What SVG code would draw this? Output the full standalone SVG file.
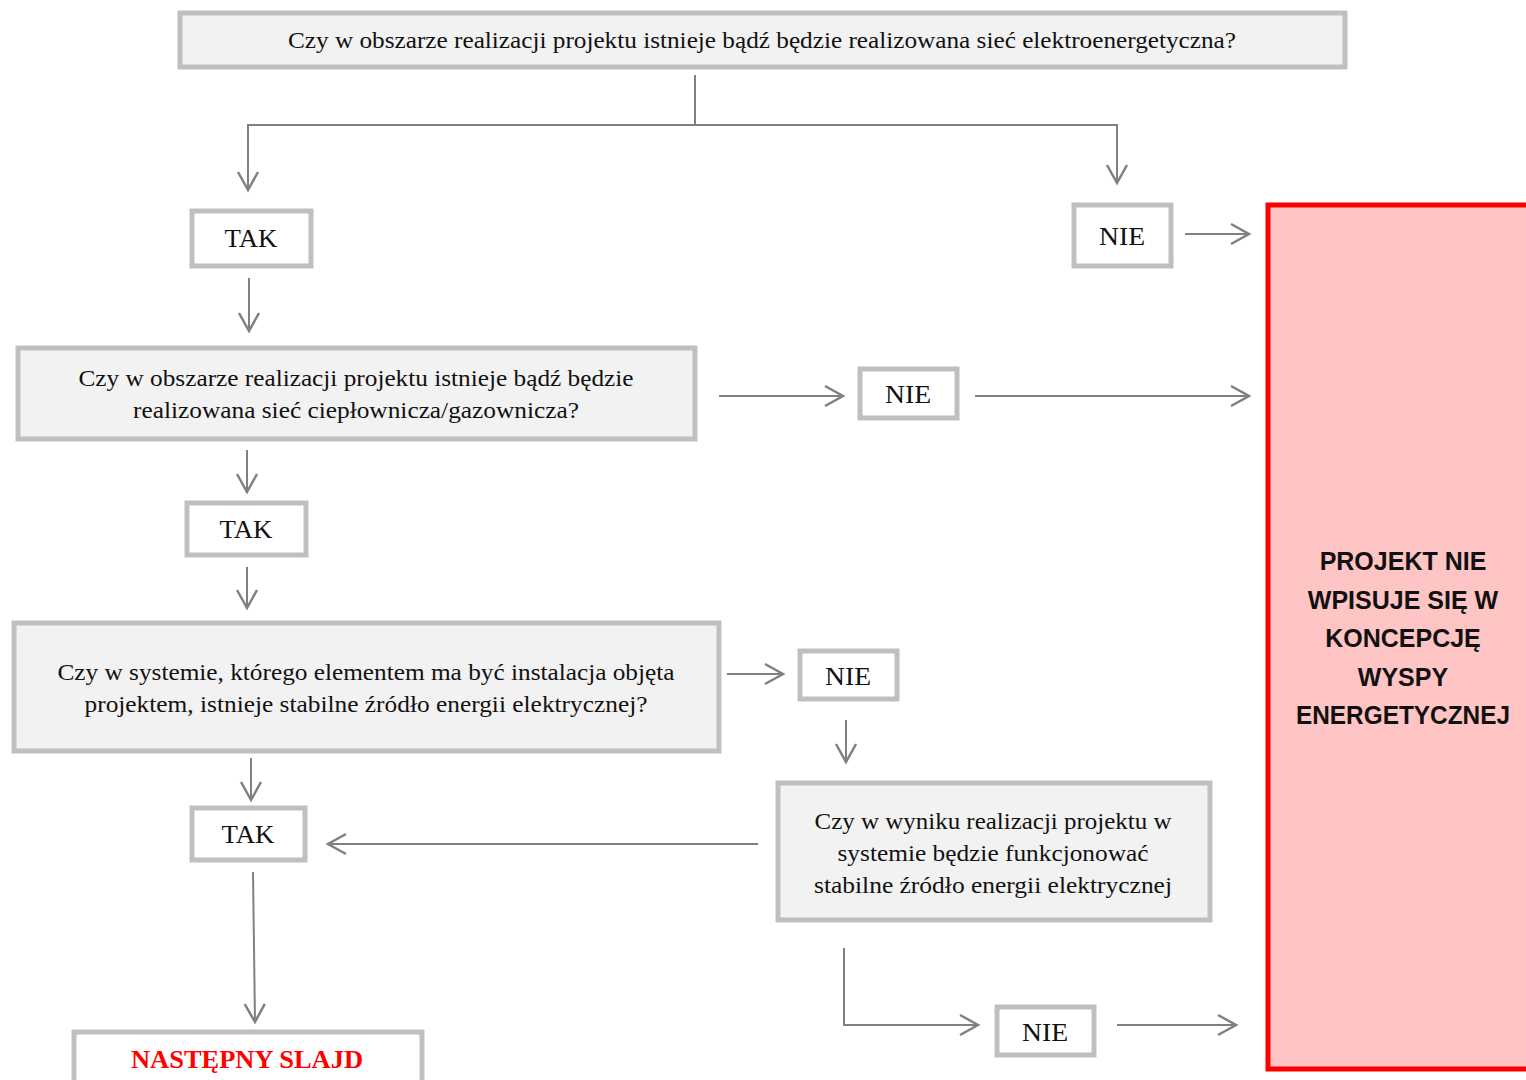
<svg xmlns="http://www.w3.org/2000/svg" width="1526" height="1080" viewBox="0 0 1526 1080">
<style>
.q{fill:#f2f2f2;stroke:#bfbfbf;stroke-width:5}
.a{fill:#ffffff;stroke:#bfbfbf;stroke-width:5}
.t{font-family:"Liberation Serif","DejaVu Serif",serif;font-size:24px;fill:#111;text-anchor:middle}
.s{font-family:"Liberation Serif","DejaVu Serif",serif;font-size:25px;fill:#111;text-anchor:middle}
.c{fill:none;stroke:#808080;stroke-width:2}
.arr{marker-end:url(#ah)}
</style>
<defs>
<marker id="ah" markerUnits="userSpaceOnUse" markerWidth="24" markerHeight="24" viewBox="-20 -12 24 24" refX="0" refY="0" orient="auto">
<path d="M-18,-10 L0,0 L-18,10" fill="none" stroke="#808080" stroke-width="2.5"/>
</marker>
</defs>
<rect width="1526" height="1080" fill="#ffffff"/>
<g id="connectors">
<path class="c" d="M695,75 V125"/>
<path class="c arr" d="M695,125 H248 V190"/>
<path class="c arr" d="M695,125 H1117 V183"/>
<path class="c arr" d="M1185,234 H1249"/>
<path class="c arr" d="M249,278 V331"/>
<path class="c arr" d="M719,396 H843"/>
<path class="c arr" d="M975,396 H1249"/>
<path class="c arr" d="M247,450 V492"/>
<path class="c arr" d="M247,567 V608"/>
<path class="c arr" d="M727,674 H783"/>
<path class="c arr" d="M846,720 V762"/>
<path class="c arr" d="M251,758 V800"/>
<path class="c arr" d="M758,844 H328"/>
<path class="c arr" d="M253,872 L255,1022"/>
<path class="c arr" d="M844,948 V1025 H978"/>
<path class="c arr" d="M1117,1025 H1236"/>
</g>
<g id="q1">
<rect class="q" x="180" y="13" width="1165" height="54"/>
<text class="t" x="762" y="48" textLength="948" lengthAdjust="spacingAndGlyphs">Czy w obszarze realizacji projektu istnieje bądź będzie realizowana sieć elektroenergetyczna?</text>
</g>
<g id="tak1">
<rect class="a" x="192" y="211" width="119" height="55"/>
<text class="s" x="251" y="247" textLength="53" lengthAdjust="spacingAndGlyphs">TAK</text>
</g>
<g id="nie1">
<rect class="a" x="1074" y="205" width="97" height="61"/>
<text class="s" x="1122" y="245" textLength="46" lengthAdjust="spacingAndGlyphs">NIE</text>
</g>
<g id="result">
<rect x="1268" y="205" width="270" height="864" fill="#ffc4c4" stroke="#ff0000" stroke-width="5"/>
<g font-family="'Liberation Sans','DejaVu Sans',sans-serif" font-weight="bold" font-size="25" text-anchor="middle" fill="#111">
<text x="1403" y="570">PROJEKT NIE</text>
<text x="1403" y="609">WPISUJE SIĘ W</text>
<text x="1403" y="647">KONCEPCJĘ</text>
<text x="1403" y="686">WYSPY</text>
<text x="1403" y="724" textLength="214" lengthAdjust="spacingAndGlyphs">ENERGETYCZNEJ</text>
</g>
</g>
<g id="q2">
<rect class="q" x="18" y="348" width="677" height="91"/>
<text class="t" x="356" y="386" textLength="555" lengthAdjust="spacingAndGlyphs">Czy w obszarze realizacji projektu istnieje bądź będzie</text>
<text class="t" x="356" y="418" textLength="446" lengthAdjust="spacingAndGlyphs">realizowana sieć ciepłownicza/gazownicza?</text>
</g>
<g id="nie2">
<rect class="a" x="860" y="369" width="97" height="49"/>
<text class="s" x="908" y="403" textLength="46" lengthAdjust="spacingAndGlyphs">NIE</text>
</g>
<g id="tak2">
<rect class="a" x="187" y="503" width="119" height="52"/>
<text class="s" x="246" y="538" textLength="53" lengthAdjust="spacingAndGlyphs">TAK</text>
</g>
<g id="q3">
<rect class="q" x="14" y="623" width="705" height="128"/>
<text class="t" x="366" y="680" textLength="617" lengthAdjust="spacingAndGlyphs">Czy w systemie, którego elementem ma być instalacja objęta</text>
<text class="t" x="366" y="712" textLength="563" lengthAdjust="spacingAndGlyphs">projektem, istnieje stabilne źródło energii elektrycznej?</text>
</g>
<g id="nie3">
<rect class="a" x="800" y="651" width="97" height="48"/>
<text class="s" x="848" y="685" textLength="46" lengthAdjust="spacingAndGlyphs">NIE</text>
</g>
<g id="q4">
<rect class="q" x="778" y="783" width="432" height="137"/>
<text class="t" x="993" y="829" textLength="357" lengthAdjust="spacingAndGlyphs">Czy w wyniku realizacji projektu w</text>
<text class="t" x="993" y="861" textLength="311" lengthAdjust="spacingAndGlyphs">systemie będzie funkcjonować</text>
<text class="t" x="993" y="893" textLength="358" lengthAdjust="spacingAndGlyphs">stabilne źródło energii elektrycznej</text>
</g>
<g id="tak3">
<rect class="a" x="192" y="808" width="113" height="52"/>
<text class="s" x="248" y="843" textLength="53" lengthAdjust="spacingAndGlyphs">TAK</text>
</g>
<g id="nie4">
<rect class="a" x="997" y="1007" width="97" height="48"/>
<text class="s" x="1045" y="1041" textLength="46" lengthAdjust="spacingAndGlyphs">NIE</text>
</g>
<g id="next">
<rect class="a" x="74" y="1032" width="348" height="60"/>
<text x="247" y="1068" font-family="'Liberation Serif','DejaVu Serif',serif" font-weight="bold" font-size="25" fill="#ff0000" text-anchor="middle" textLength="232" lengthAdjust="spacingAndGlyphs">NASTĘPNY SLAJD</text>
</g>
</svg>
